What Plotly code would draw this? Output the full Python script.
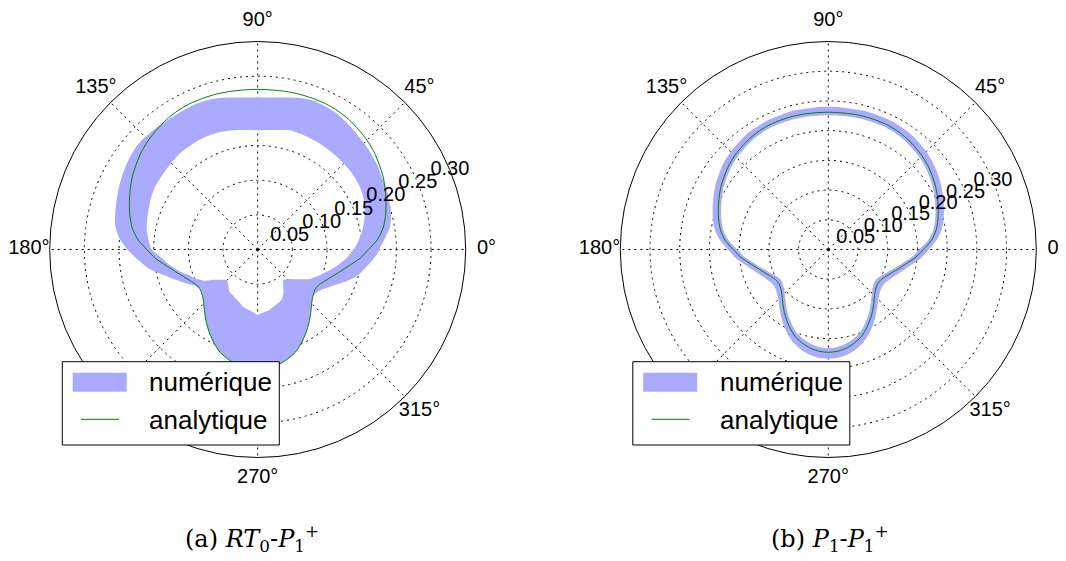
import plotly.graph_objects as go

# ---- data (radius vs angle in degrees) ----
theta = [0, 5, 10, 15, 20, 25, 30, 35, 40, 45, 50, 55, 60, 65, 70, 75, 80, 85,
         90, 95, 100, 105, 110, 115, 120, 125, 130, 135, 140, 145, 150, 155, 160, 165, 170, 175,
         180, 185, 190, 195, 200, 205, 210, 215, 220, 225, 230, 235, 240, 245, 250, 255, 260, 265,
         270, 275, 280, 285, 290, 295, 300, 305, 310, 315, 320, 325, 330, 335, 340, 345, 350, 355]

analytique = [0.160, 0.174, 0.184, 0.191, 0.197, 0.203, 0.209, 0.214, 0.219, 0.223, 0.226, 0.229,
              0.231, 0.232, 0.232, 0.232, 0.2315, 0.231, 0.231, 0.231, 0.2315, 0.232, 0.232, 0.232,
              0.231, 0.229, 0.226, 0.223, 0.219, 0.214, 0.209, 0.203, 0.197, 0.191, 0.184, 0.174,
              0.160, 0.148, 0.134, 0.123, 0.114, 0.107, 0.102, 0.101, 0.104, 0.110, 0.119, 0.129,
              0.139, 0.149, 0.158, 0.164, 0.169, 0.172, 0.173, 0.172, 0.169, 0.164, 0.158, 0.149,
              0.139, 0.129, 0.119, 0.110, 0.104, 0.101, 0.102, 0.107, 0.114, 0.123, 0.134, 0.148]

# (a) RT0-P1+ : numerical band, outer and inner edges
rt0_outer = [0.175, 0.184, 0.194, 0.199, 0.202, 0.205, 0.207, 0.211, 0.214, 0.217, 0.220, 0.2235,
             0.227, 0.2285, 0.229, 0.2265, 0.2227, 0.2201, 0.2193, 0.2201, 0.2227, 0.226, 0.228, 0.228,
             0.2275, 0.2275, 0.2285, 0.2295, 0.2295, 0.227, 0.2235, 0.220, 0.216, 0.2125, 0.209, 0.201,
             0.188, 0.173, 0.159, 0.141, 0.127, 0.115, 0.1045, 0.101, 0.104, 0.110, 0.119, 0.129,
             0.139, 0.149, 0.158, 0.164, 0.169, 0.172, 0.173, 0.172, 0.169, 0.164, 0.158, 0.149,
             0.139, 0.129, 0.119, 0.110, 0.104, 0.106, 0.112, 0.122, 0.135, 0.148, 0.157, 0.167]
rt0_inner = [0.139, 0.146, 0.153, 0.159, 0.165, 0.169, 0.172, 0.174, 0.175, 0.1755, 0.176, 0.1765,
             0.177, 0.1775, 0.178, 0.178, 0.175, 0.173, 0.172, 0.173, 0.175, 0.177, 0.1785, 0.179,
             0.179, 0.1785, 0.178, 0.1765, 0.175, 0.174, 0.173, 0.1705, 0.1675, 0.165, 0.1625, 0.158,
             0.153, 0.139, 0.129, 0.118, 0.107, 0.099, 0.090, 0.076, 0.068, 0.063, 0.066, 0.072,
             0.0745, 0.077, 0.080, 0.0846, 0.0874, 0.090, 0.094, 0.0913, 0.0892, 0.086, 0.083, 0.0806,
             0.074, 0.0645, 0.057, 0.0605, 0.0665, 0.0745, 0.0855, 0.093, 0.101, 0.110, 0.120, 0.130]

# (b) P1-P1+ : numerical band, outer and inner edges
p1_outer = [0.169, 0.183, 0.194, 0.201, 0.207, 0.213, 0.219, 0.224, 0.229, 0.233, 0.236, 0.239,
            0.240, 0.241, 0.241, 0.241, 0.240, 0.240, 0.240, 0.240, 0.240, 0.241, 0.240, 0.240,
            0.239, 0.238, 0.235, 0.232, 0.229, 0.224, 0.219, 0.213, 0.207, 0.201, 0.194, 0.183,
            0.169, 0.157, 0.143, 0.132, 0.123, 0.116, 0.111, 0.110, 0.113, 0.119, 0.128, 0.138,
            0.149, 0.159, 0.168, 0.175, 0.180, 0.183, 0.184, 0.183, 0.180, 0.175, 0.168, 0.159,
            0.149, 0.138, 0.128, 0.119, 0.113, 0.110, 0.111, 0.116, 0.123, 0.132, 0.143, 0.157]
p1_inner = [0.153, 0.168, 0.179, 0.186, 0.192, 0.198, 0.204, 0.209, 0.214, 0.218, 0.221, 0.224,
            0.226, 0.227, 0.227, 0.227, 0.2265, 0.226, 0.226, 0.226, 0.2265, 0.227, 0.227, 0.227,
            0.226, 0.224, 0.221, 0.218, 0.214, 0.209, 0.204, 0.198, 0.192, 0.186, 0.179, 0.168,
            0.153, 0.142, 0.128, 0.117, 0.108, 0.101, 0.096, 0.095, 0.098, 0.104, 0.112, 0.122,
            0.132, 0.142, 0.151, 0.157, 0.162, 0.165, 0.166, 0.165, 0.162, 0.157, 0.151, 0.142,
            0.132, 0.122, 0.112, 0.104, 0.098, 0.095, 0.096, 0.101, 0.108, 0.117, 0.128, 0.142]

angle_ticks = [0, 45, 90, 135, 180, 225, 270, 315]
angle_labels = ["0°", "45°", "90°", "135°", "180°", "225°", "270°", "315°"]
radial_ticks_a = [0.05, 0.10, 0.15, 0.20, 0.25, 0.30]
radial_ticks_b = [0.05, 0.10, 0.15, 0.20, 0.25, 0.30]
radial_max_a = 0.30
radial_max_b = 0.35
series_names = ["numérique", "analytique"]
captions = ["(a) <i>RT</i><sub>0</sub>-<i>P</i><sub>1</sub><sup>+</sup>",
            "(b) <i>P</i><sub>1</sub>-<i>P</i><sub>1</sub><sup>+</sup>"]

BAND = "rgb(170,170,255)"
GREEN = "#008000"
FONT = "Liberation Sans"
GRID_DASH = "2px,4px"
LABEL_ANGLE = 22.5      # direction of the radial tick labels
ANGLE_LABEL_FRAC = 1.1  # angular labels sit at 1.1 x outer radius
OVERLAY_FRAC = 1.12     # invisible overlay polar that carries the angular labels

# page body has an 8px margin: figure is placed at (8, 8)
OFF = 8
W, H = 1058, 553
CY = 249.5
R_PX = 208.0


def px(x):
    return (x - OFF) / W


def py(y):
    return 1 - (y - OFF) / H


def ring(outer, inner):
    th = theta + [360] + list(reversed(theta + [360]))
    rr = outer + [outer[0]] + list(reversed(inner + [inner[0]]))
    return th, rr


panels = [dict(outer=rt0_outer, inner=rt0_inner, pol="polar", over="polar3",
               rticks=radial_ticks_a, rmax=radial_max_a, cx=257.7),
          dict(outer=p1_outer, inner=p1_inner, pol="polar2", over="polar4",
               rticks=radial_ticks_b, rmax=radial_max_b, cx=828.3)]

fig = go.Figure()
for p in panels:
    th, rr = ring(p["outer"], p["inner"])
    fig.add_trace(go.Scatterpolar(r=rr, theta=th, mode="lines", fill="toself",
                                  fillcolor=BAND,
                                  line=dict(width=0, color=BAND, shape="spline", smoothing=0.6),
                                  name=series_names[0], subplot=p["pol"], showlegend=False))
    fig.add_trace(go.Scatterpolar(r=analytique + [analytique[0]], theta=theta + [360], mode="lines",
                                  line=dict(width=1, color=GREEN, shape="spline", smoothing=0.6),
                                  name=series_names[1], subplot=p["pol"], showlegend=False))
    # radial tick labels, horizontal, along the 22.5° direction
    fig.add_trace(go.Scatterpolar(r=p["rticks"], theta=[LABEL_ANGLE] * len(p["rticks"]), mode="text",
                                  text=["%.2f" % v for v in p["rticks"]], textposition="middle center",
                                  textfont=dict(family=FONT, size=20, color="black"),
                                  subplot=p["pol"], showlegend=False, hoverinfo="skip"))
    # angular tick labels on the overlay
    fig.add_trace(go.Scatterpolar(r=[p["rmax"] * ANGLE_LABEL_FRAC] * len(angle_ticks), theta=angle_ticks,
                                  mode="text", text=angle_labels, textposition="middle center",
                                  textfont=dict(family=FONT, size=20, color="black"),
                                  cliponaxis=False, subplot=p["over"], showlegend=False,
                                  hoverinfo="skip"))


def polar_layout(cx, rmax, rticks):
    return dict(
        domain=dict(x=[px(cx - R_PX), px(cx + R_PX)], y=[py(CY + R_PX), py(CY - R_PX)]),
        bgcolor="white",
        radialaxis=dict(range=[0, rmax], tickvals=rticks, showticklabels=False,
                        angle=LABEL_ANGLE, showline=False, ticks="",
                        showgrid=True, gridcolor="black", griddash=GRID_DASH, gridwidth=1,
                        layer="above traces"),
        angularaxis=dict(tickmode="array", tickvals=angle_ticks, showticklabels=False,
                         rotation=0, direction="counterclockwise", ticks="",
                         showline=True, linecolor="black", linewidth=1,
                         showgrid=True, gridcolor="black", griddash=GRID_DASH, gridwidth=1,
                         layer="above traces"),
    )


def overlay_layout(cx, rmax):
    rr = R_PX * OVERLAY_FRAC
    return dict(
        domain=dict(x=[px(cx - rr), px(cx + rr)], y=[py(CY + rr), py(CY - rr)]),
        bgcolor="rgba(0,0,0,0)",
        radialaxis=dict(range=[0, rmax * OVERLAY_FRAC], visible=False, showgrid=False),
        angularaxis=dict(visible=False, showgrid=False, showline=False, rotation=0,
                         direction="counterclockwise"),
    )


# manual legends (box, filled patch, green line, texts)
shapes = []
annotations = []
for dx in [0, 570.5]:
    shapes.append(dict(type="rect", xref="paper", yref="paper",
                       x0=px(62.3 + dx), x1=px(279.3 + dx), y0=py(445), y1=py(361.7),
                       line=dict(color="black", width=1), fillcolor="white", layer="above"))
    shapes.append(dict(type="rect", xref="paper", yref="paper",
                       x0=px(72.7 + dx), x1=px(126.7 + dx), y0=py(391.7), y1=py(372.7),
                       line=dict(width=0), fillcolor=BAND, layer="above"))
    shapes.append(dict(type="line", xref="paper", yref="paper",
                       x0=px(81 + dx), x1=px(119 + dx), y0=py(419.3), y1=py(419.3),
                       line=dict(color=GREEN, width=1), layer="above"))
    annotations.append(dict(text=series_names[0], x=px(147 + dx), y=py(382.5), xref="paper",
                            yref="paper", xanchor="left", yanchor="middle", showarrow=False,
                            font=dict(family=FONT, size=26, color="black")))
    annotations.append(dict(text=series_names[1], x=px(147 + dx), y=py(419.5), xref="paper",
                            yref="paper", xanchor="left", yanchor="middle", showarrow=False,
                            font=dict(family=FONT, size=26, color="black")))

for cap, cx in zip(captions, [252, 830]):
    annotations.append(dict(text=cap, x=px(cx), y=py(538), xref="paper", yref="paper",
                            xanchor="center", yanchor="middle", showarrow=False,
                            font=dict(family="DejaVu Serif", size=24, color="black")))

fig.update_layout(
    width=W, height=H,
    margin=dict(l=0, r=0, t=0, b=0),
    paper_bgcolor="white", plot_bgcolor="white",
    showlegend=False,
    polar=polar_layout(panels[0]["cx"], radial_max_a, radial_ticks_a),
    polar2=polar_layout(panels[1]["cx"], radial_max_b, radial_ticks_b),
    polar3=overlay_layout(panels[0]["cx"], radial_max_a),
    polar4=overlay_layout(panels[1]["cx"], radial_max_b),
    shapes=shapes,
    annotations=annotations,
)

fig.write_html("out.html")
